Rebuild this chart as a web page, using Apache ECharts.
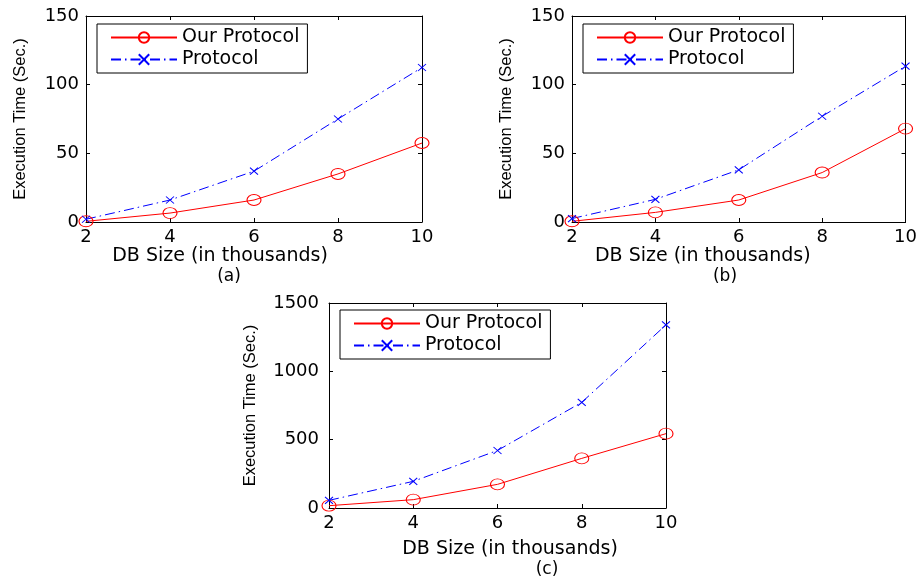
<!DOCTYPE html>
<html lang="en">
	<head>
		<meta charset="UTF-8"/>
		<title></title>
		<script src="https://cdn.jsdelivr.net/npm/echarts@6/dist/echarts.min.js"></script>
		<style>
			html, body { margin: 0; padding: 0; background: #fff; }
		</style>
	</head>
	<body>
		<div id="main" style="width: 920px;height: 577px;"></div>
		<script type="text/javascript">
			// DB size in thousands
			var dbSizes = [2, 4, 6, 8, 10];
			// panel (a)
			var ourA = [0.5, 6.5, 16, 35, 57.5];
			var protoA = [2, 16, 37, 75, 112.5];
			// panel (b)
			var ourB = [0.5, 7, 16, 36, 68];
			var protoB = [2.5, 16.5, 38, 77, 113.5];
			// panel (c)
			var ourC = [17, 61, 173, 363, 544];
			var protoC = [56, 195, 421, 773, 1340];

			var captions = ['(a)', '(b)', '(c)'];
			var seriesNames = ['Our Protocol', 'Protocol'];

			var txtFont = 'DejaVu Sans';
			var crossPath = 'path://M0,0L10,10M10,0L0,10';

			var panels = [
				{ our: ourA, proto: protoA, yMax: 150, yStep: 50,
				  grid: { left: 86, top: 16, width: 336, height: 206 },
				  legend: { left: 97, top: 24 }, nameShift: [0, 68, 0, 0], xGap: 25, yGap: 57, yMargin: 7,
				  cap: { left: 229, top: 268 } },
				{ our: ourB, proto: protoB, yMax: 150, yStep: 50,
				  grid: { left: 572, top: 16, width: 335, height: 206 },
				  legend: { left: 583, top: 24 }, nameShift: [0, 72, 0, 0], xGap: 25, yGap: 57, yMargin: 7,
				  cap: { left: 725, top: 268 } },
				{ our: ourC, proto: protoC, yMax: 1500, yStep: 500,
				  grid: { left: 329, top: 303, width: 337, height: 205 },
				  legend: { left: 340, top: 310 }, nameShift: [0, 0, 0, 25], xGap: 32, yGap: 70, yMargin: 10,
				  cap: { left: 547, top: 561 } }
			];

			function pairs(xs, ys) {
				return xs.map(function (x, i) { return [x, ys[i]]; });
			}

			var grids = [], xAxes = [], yAxes = [], series = [], legends = [], titles = [];
			var frame = { show: true, onZero: false, lineStyle: { color: '#000', width: 1 } };
			var tick = { show: true, inside: true, length: 4, lineStyle: { color: '#000' } };

			panels.forEach(function (p, k) {
				grids.push(p.grid);
				// bottom x axis
				xAxes.push({
					gridIndex: k, type: 'value', min: 2, max: 10, interval: 2, position: 'bottom',
					axisLine: frame, axisTick: tick, splitLine: { show: false },
					axisLabel: { color: '#000', fontFamily: txtFont, fontSize: 18, margin: 6 },
					name: 'DB Size (in thousands)', nameLocation: 'middle', nameGap: p.xGap,
					nameTextStyle: { color: '#000', fontFamily: txtFont, fontSize: 19, padding: p.nameShift }
				});
				// top x axis (box frame)
				xAxes.push({
					gridIndex: k, type: 'value', min: 2, max: 10, interval: 2, position: 'top',
					axisLine: frame, axisTick: tick, axisLabel: { show: false }, splitLine: { show: false }
				});
				// left y axis
				yAxes.push({
					gridIndex: k, type: 'value', min: 0, max: p.yMax, interval: p.yStep, position: 'left',
					axisLine: frame, axisTick: tick, splitLine: { show: false },
					axisLabel: { color: '#000', fontFamily: txtFont, fontSize: 18, margin: p.yMargin,
						formatter: function (v) { return String(v); } },
					name: 'Execution Time (Sec.)', nameLocation: 'middle', nameGap: p.yGap,
					nameTextStyle: { color: '#000', fontFamily: 'Liberation Sans', fontSize: 16.5 }
				});
				// right y axis (box frame)
				yAxes.push({
					gridIndex: k, type: 'value', min: 0, max: p.yMax, interval: p.yStep, position: 'right',
					axisLine: frame, axisTick: tick, axisLabel: { show: false }, splitLine: { show: false }
				});

				series.push({
					name: seriesNames[0], type: 'line', xAxisIndex: 2 * k, yAxisIndex: 2 * k,
					data: pairs(dbSizes, p.our), clip: false,
					symbol: 'circle', symbolSize: [14, 11],
					lineStyle: { color: '#ff0000', width: 1 },
					itemStyle: { color: 'none', borderColor: '#ff0000', borderWidth: 1 }
				});
				series.push({
					name: seriesNames[1], type: 'line', xAxisIndex: 2 * k, yAxisIndex: 2 * k,
					data: pairs(dbSizes, p.proto), clip: false,
					symbol: crossPath, symbolSize: [8, 7],
					lineStyle: { color: '#0000ff', width: 1, type: [10, 4, 1.5, 4] },
					itemStyle: { color: 'none', borderColor: '#0000ff', borderWidth: 1 }
				});

				legends.push({
					left: p.legend.left, top: p.legend.top, orient: 'vertical',
					data: seriesNames, selectedMode: false,
					itemWidth: 66, itemHeight: 13, itemGap: 3,
					padding: [4, 8, 4, 13],
					borderColor: '#000', borderWidth: 1, backgroundColor: '#fff',
					textStyle: { color: '#000', fontFamily: txtFont, fontSize: 19 }
				});

				titles.push({
					text: captions[k], left: p.cap.left, top: p.cap.top, textAlign: 'center',
					padding: 0,
					textStyle: { color: '#000', fontFamily: txtFont, fontSize: 17, fontWeight: 'normal' }
				});
			});

			var myChart = echarts.init(document.getElementById('main'));
			var option = {
				backgroundColor: '#fff',
				animation: false,
				title: titles,
				legend: legends,
				grid: grids,
				xAxis: xAxes,
				yAxis: yAxes,
				series: series
			};
			myChart.setOption(option);
		</script>
	</body>
</html>
